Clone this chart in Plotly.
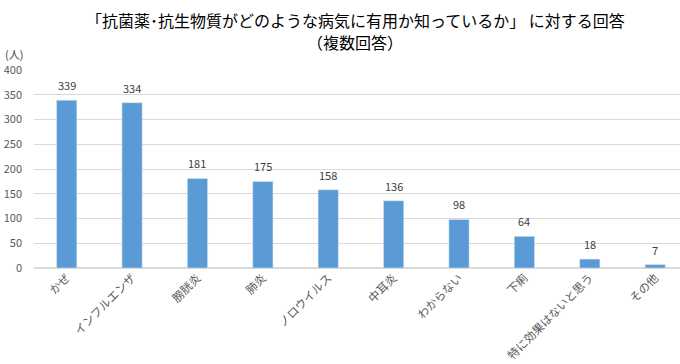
import plotly.graph_objects as go

categories = ["かぜ", "インフルエンザ", "膀胱炎", "肺炎", "ノロウイルス", "中耳炎", "わからない", "下痢", "特に効果はないと思う", "その他"]
values = [339, 334, 181, 175, 158, 136, 98, 64, 18, 7]
y_ticks = [0, 50, 100, 150, 200, 250, 300, 350, 400]
title_lines = ["「抗菌薬･抗生物質がどのような病気に有用か知っているか」 に対する回答", "（複数回答）"]

FONT = "Noto Sans CJK JP"

fig = go.Figure(go.Bar(
    x=categories, y=values,
    marker_color="#5B9BD5",
    cliponaxis=False,
))

label_annotations = [
    dict(x=c, y=v, xref="x", yref="y", text=str(v), showarrow=False,
         yanchor="bottom", yshift=5, font=dict(size=11, color="#404040", family=FONT))
    for c, v in zip(categories, values)
]

title_annotations = [
    dict(text=t, x=0.497, xref="paper", xanchor="center", y=yy, yref="paper",
         yanchor="middle", showarrow=False,
         font=dict(size=16, color="#000000", family=FONT))
    for t, yy in zip(title_lines, [1.2525, 1.1414])
]

fig.update_layout(
    width=680, height=364,
    margin=dict(l=34, r=0, t=70, b=96),
    paper_bgcolor="white", plot_bgcolor="white",
    bargap=0.69,
    showlegend=False,
    font=dict(family=FONT, color="#595959"),
    xaxis=dict(
        tickangle=-45, tickfont=dict(size=11.5, color="#595959"),
        range=[-0.5, 9.38], showgrid=False, showline=False, ticks="",
        automargin=False,
    ),
    yaxis=dict(
        range=[0, 400], tickvals=y_ticks, tickfont=dict(size=11, color="#595959"),
        showgrid=True, gridcolor="#D9D9D9", gridwidth=1, zeroline=True,
        zerolinecolor="#D9D9D9", ticks="", ticklabelstandoff=11, automargin=False,
    ),
    annotations=label_annotations + title_annotations + [
        dict(text="(人)", x=0, xref="paper", xanchor="left", xshift=-31,
             y=400, yref="y", yanchor="bottom", yshift=6, showarrow=False,
             font=dict(size=11, color="#404040", family=FONT))],
)

fig.write_html("out.html", config={"displayModeBar": False},
               post_script="document.body.style.margin='0';")
